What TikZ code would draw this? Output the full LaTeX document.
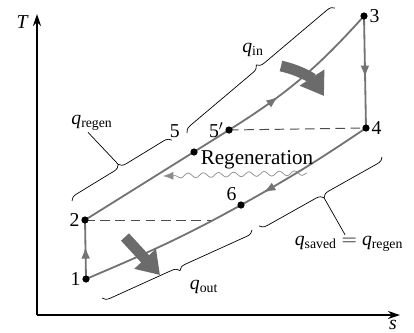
\documentclass[tikz,border=0pt]{standalone}
\usepackage{fontspec}
\setmainfont{Liberation Serif}
\usepackage{amsmath}
\usetikzlibrary{arrows.meta, calc, decorations.pathreplacing,
                decorations.pathmorphing, decorations.markings}

\newcommand{\qsub}[1]{\textit{q}$_{\text{#1}}$}

\begin{document}
\begin{tikzpicture}[
  x=0.025cm, y=-0.025cm,
  font=\rmfamily\fontsize{14}{16}\selectfont,
  axis/.style={line width=0.9pt, -{Stealth[length=3mm,width=2mm]}},
  process/.style={draw=black!55, line width=1.3pt},
  midarrow/.style={postaction={decorate, decoration={markings,
      mark=at position #1 with {\arrow[black!55]{Latex[length=3mm,width=2.2mm]}}}}},
  dashline/.style={draw=black!70, line width=0.7pt, dash pattern=on 2.4mm off 1.4mm},
  dot/.style={circle, fill=black, inner sep=0pt, minimum size=1.8mm},
  lbl/.style={inner sep=1pt},
  bracket/.style={decorate, decoration={brace, amplitude=1.8mm}, line width=0.5pt},
  heatarrow/.style={draw=black!58, line width=2.7mm,
    -{Triangle[length=5.5mm,width=7mm]}},
  wavy/.style={draw=black!45, line width=0.5pt, decorate,
    decoration={snake, amplitude=0.6mm, segment length=3.8mm, post length=2mm}},
]
  \useasboundingbox (0,0) rectangle (414,332);

  % axes
  \coordinate (o) at (37,315);
  \coordinate (ttip) at (37,14);
  \coordinate (stip) at (400,315);
  \draw[axis] (o) -- (ttip);
  \draw[axis] (o) -- (stip);
  \node[lbl, font=\rmfamily\fontsize{14}{16}\selectfont\itshape] (tlab) at (22,22) {T};
  \node[inner sep=0pt, font=\rmfamily\fontsize{14}{16}\selectfont\itshape] (slab) at (393,325) {s};

  % state points
  \coordinate (c1) at (86,279);
  \coordinate (c2) at (85,220);
  \coordinate (c3) at (364,16);
  \coordinate (c4) at (366,128);
  \coordinate (c5) at (194,152);
  \coordinate (c5p) at (229,130);
  \coordinate (c6) at (241,205);
  \coordinate (d2) at (211,220);

  % cycle
  \draw[process, midarrow=0.55] (c1) -- (c2);
  \draw[process, midarrow=0.55] (c3) -- (c4);
  \draw[process, midarrow=0.66] (c2) -- (c5p) to[out=32, in=228] (c3);
  \draw[process, midarrow=0.38] (c4) to[out=214, in=29] (c6)
    to[out=209, in=23] (c1);
  \draw[dashline] (c2) -- (d2);
  \draw[dashline] (c5p) -- (c4);

  \node[dot, label={[lbl]left:1}] (p1) at (c1) {};
  \node[dot, label={[lbl]left:2}] (p2) at (c2) {};
  \node[dot, label={[lbl]right:3}] (p3) at (c3) {};
  \node[dot, label={[lbl]right:4}] (p4) at (c4) {};
  \node[dot, label={[lbl, label distance=3.5mm]135:5}] (p5) at (c5) {};
  \node[dot, label={[lbl]left:5$'$}] (p5p) at (c5p) {};
  \node[dot, label={[lbl]135:6}] (p6) at (c6) {};

  % regeneration
  \node[lbl, font=\rmfamily\fontsize{15}{17}\selectfont] (regen) at (257,160) {Regeneration};
  \coordinate (wend) at (163,176);
  \draw[wavy, -{Latex[length=2.6mm,width=2mm]}] ([xshift=-2mm,yshift=-0.5mm]regen.south east) -- (wend);

  % heat arrows
  \coordinate (qinA) at (281,66);
  \coordinate (qinB) at (324,96);
  \draw[heatarrow] (qinA) to[bend left=22] (qinB);
  \coordinate (qoutA) at (125,237);
  \coordinate (qoutB) at (160,275);
  \draw[heatarrow] (qoutA) -- (qoutB);

  % braces
  \coordinate (bi1) at (187,133);
  \coordinate (bi2) at (335,8);
  \coordinate (br1) at (72,201);
  \coordinate (br2) at (172,140);
  \coordinate (bs1) at (382,157);
  \coordinate (bs2) at (259,226);
  \coordinate (bo1) at (252,230);
  \coordinate (bo2) at (102,298);
  \draw[bracket] (bi1) -- (bi2);
  \draw[bracket] (br1) -- (br2);
  \draw[bracket] (bs1) -- (bs2);
  \draw[bracket] (bo1) -- (bo2);
  \coordinate (rtip) at ($(br1)!0.5!(br2)!1.8mm!90:(br2)$);
  \coordinate (stip2) at ($(bs1)!0.5!(bs2)!1.8mm!90:(bs2)$);

  \node[lbl] (qin) at (253,50) {\qsub{in}};
  \node[lbl] (qregen) at (92,123) {\qsub{regen}};
  \node[lbl] (qsaved) at (349,244) {\qsub{saved} $=$ \qsub{regen}};
  \node[lbl] (qout) at (204,287) {\qsub{out}};
  \draw[line width=0.5pt] (rtip) -- ([xshift=-1mm]qregen.south);
  \draw[line width=0.5pt] (stip2) -- ([xshift=-1mm]qsaved.north);
\end{tikzpicture}
\end{document}
